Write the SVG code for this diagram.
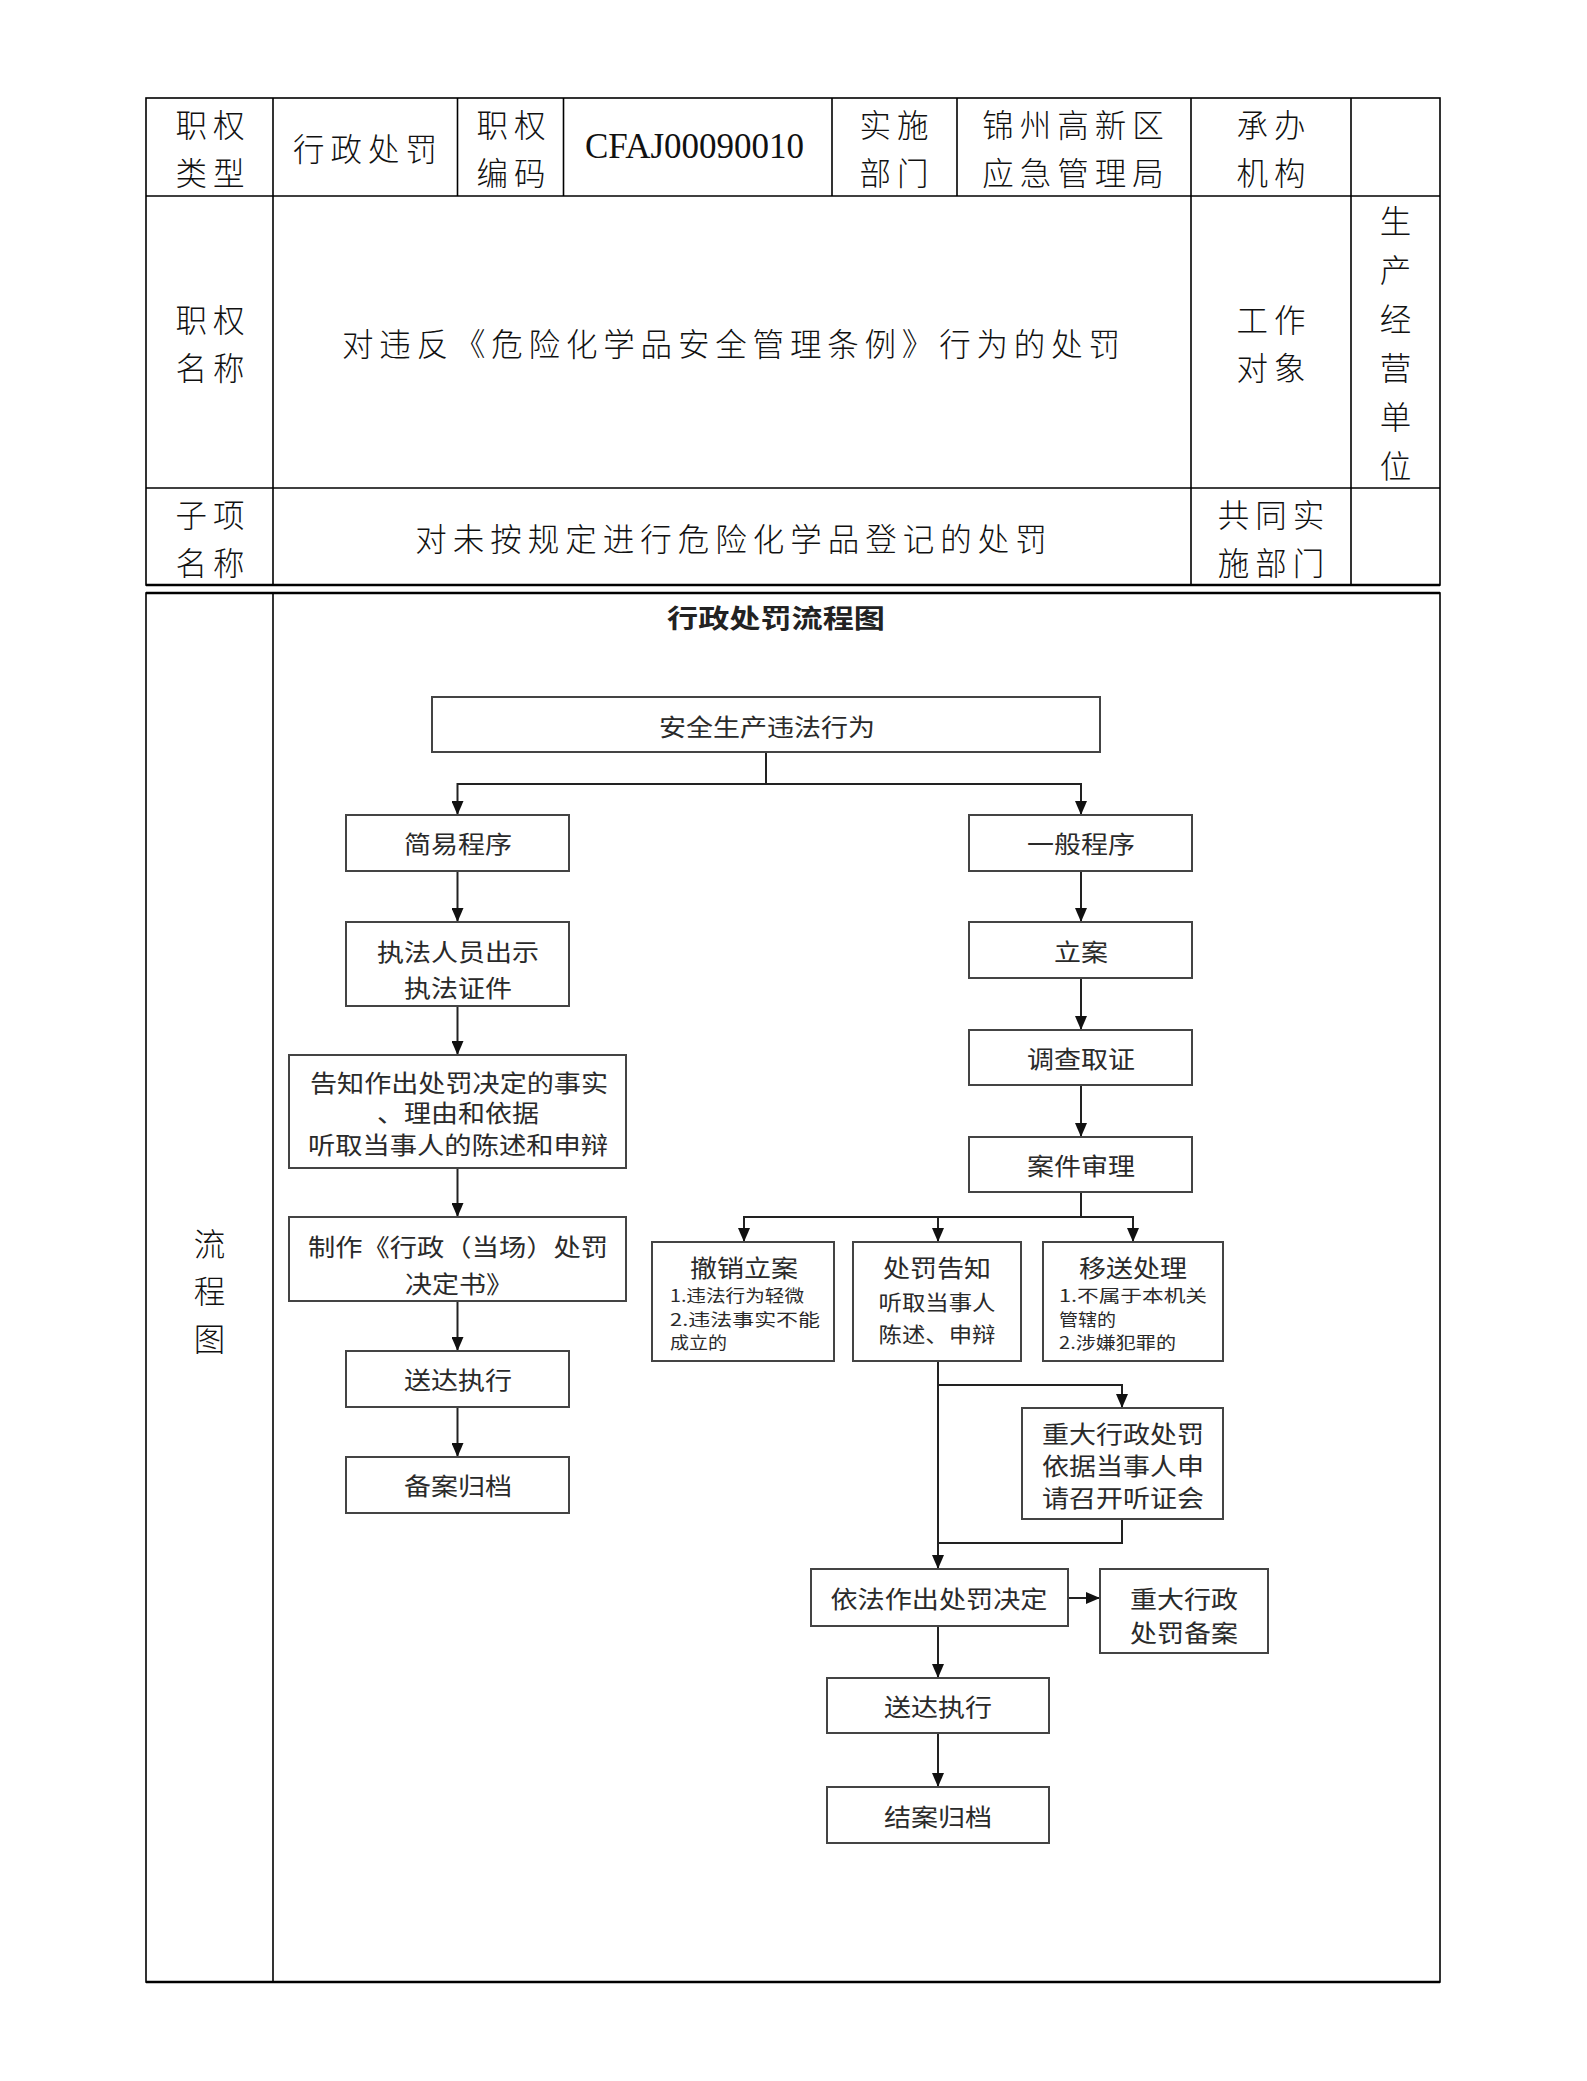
<svg xmlns="http://www.w3.org/2000/svg" width="1587" height="2081" viewBox="0 0 1587 2081">
<defs>
<style>
.bg{fill:#ffffff}
.tl{stroke:#000;stroke-width:1.6;fill:none}
.tk{stroke:#000;stroke-width:2.6;fill:none}
.tt{font-family:"Noto Sans CJK SC","Noto Sans CJK JP",sans-serif;font-size:31.5px;font-weight:300;fill:#111;letter-spacing:6px;text-anchor:middle;dominant-baseline:central}
.code{font-family:"Liberation Serif",serif;font-size:35px;fill:#111}
.title{font-family:"Noto Sans CJK SC",sans-serif;font-size:26px;font-weight:700;fill:#222;text-anchor:middle;dominant-baseline:central}
.box{fill:#fff;stroke:#444;stroke-width:2}
.ft{font-family:"Noto Sans CJK SC",sans-serif;font-size:24px;fill:#2a2a2a;text-anchor:middle;dominant-baseline:central}
.fm{font-family:"Noto Sans CJK SC",sans-serif;font-size:21px;fill:#2a2a2a;text-anchor:middle;dominant-baseline:central}
.fs{font-family:"Noto Sans CJK SC",sans-serif;font-size:17px;fill:#2a2a2a;dominant-baseline:central}
.cn{stroke:#222;stroke-width:2;fill:none}
.ar{stroke:#222;stroke-width:2;fill:none;marker-end:url(#arr)}
</style>
<marker id="arr" markerUnits="userSpaceOnUse" markerWidth="14" markerHeight="12" refX="14" refY="6" orient="auto">
<path d="M0,0 L14,6 L0,12 z" fill="#111"/>
</marker>
</defs>
<rect class="bg" x="0" y="0" width="1587" height="2081"/>

<g id="table">
<rect class="tl" x="146" y="98" width="1294" height="487"/>
<line class="tl" x1="146" y1="196" x2="1440" y2="196"/>
<line class="tl" x1="146" y1="488" x2="1440" y2="488"/>
<line class="tl" x1="273" y1="98" x2="273" y2="585"/>
<line class="tl" x1="457.5" y1="98" x2="457.5" y2="196"/>
<line class="tl" x1="563.5" y1="98" x2="563.5" y2="196"/>
<line class="tl" x1="832" y1="98" x2="832" y2="196"/>
<line class="tl" x1="957" y1="98" x2="957" y2="196"/>
<line class="tl" x1="1191" y1="98" x2="1191" y2="585"/>
<line class="tl" x1="1351" y1="98" x2="1351" y2="585"/>
<line class="tk" x1="146" y1="585" x2="1440" y2="585"/>
<rect class="tl" x="146" y="593" width="1294" height="1389"/>
<line class="tk" x1="146" y1="593" x2="1440" y2="593"/>
<line class="tk" x1="146" y1="1982" x2="1440" y2="1982"/>
<line class="tl" x1="273" y1="593" x2="273" y2="1982"/>
</g>

<g id="table-text">
<text class="tt" x="213" y="123">职权</text>
<text class="tt" x="213" y="171">类型</text>
<text class="tt" x="368" y="147">行政处罚</text>
<text class="tt" x="514" y="123">职权</text>
<text class="tt" x="514" y="171">编码</text>
<text class="code" x="585" y="158" textLength="219" lengthAdjust="spacing">CFAJ00090010</text>
<text class="tt" x="897" y="123">实施</text>
<text class="tt" x="897" y="171">部门</text>
<text class="tt" x="1076" y="123">锦州高新区</text>
<text class="tt" x="1076" y="171">应急管理局</text>
<text class="tt" x="1274" y="123">承办</text>
<text class="tt" x="1274" y="171">机构</text>
<text class="tt" x="213" y="318">职权</text>
<text class="tt" x="213" y="366">名称</text>
<text class="tt" x="734" y="342" textLength="784" lengthAdjust="spacing">对违反《危险化学品安全管理条例》行为的处罚</text>
<text class="tt" x="1274" y="318">工作</text>
<text class="tt" x="1274" y="366">对象</text>
<text class="tt" x="1395.5" y="219" style="letter-spacing:0">生</text>
<text class="tt" x="1395.5" y="268" style="letter-spacing:0">产</text>
<text class="tt" x="1395.5" y="317" style="letter-spacing:0">经</text>
<text class="tt" x="1395.5" y="366" style="letter-spacing:0">营</text>
<text class="tt" x="1395.5" y="415" style="letter-spacing:0">单</text>
<text class="tt" x="1395.5" y="464" style="letter-spacing:0">位</text>
<text class="tt" x="213" y="513">子项</text>
<text class="tt" x="213" y="561">名称</text>
<text class="tt" x="734" y="537">对未按规定进行危险化学品登记的处罚</text>
<text class="tt" x="1274" y="513">共同实</text>
<text class="tt" x="1274" y="561">施部门</text>
<text class="tt" x="209.5" y="1242" style="letter-spacing:0">流</text>
<text class="tt" x="209.5" y="1289" style="letter-spacing:0">程</text>
<text class="tt" x="209.5" y="1337" style="letter-spacing:0">图</text>
</g>

<g id="flow-title">
<text class="title" x="776" y="616" textLength="218" lengthAdjust="spacingAndGlyphs">行政处罚流程图</text>
</g>

<g id="connectors">
<path class="ar" d="M766,752 V784 H457.5 V815"/>
<path class="ar" d="M766,784 H1081 V815"/>
<path class="ar" d="M457.5,871 V922"/>
<path class="ar" d="M457.5,1006 V1055"/>
<path class="ar" d="M457.5,1168 V1217"/>
<path class="ar" d="M457.5,1301 V1351"/>
<path class="ar" d="M457.5,1407 V1457"/>
<path class="ar" d="M1081,871 V922"/>
<path class="ar" d="M1081,978 V1030"/>
<path class="ar" d="M1081,1085 V1137"/>
<path class="ar" d="M1081,1192 V1217 H744 V1242"/>
<path class="ar" d="M938,1217 V1242"/>
<path class="ar" d="M1081,1217 H1133 V1242"/>
<path class="ar" d="M938,1361 V1569"/>
<path class="ar" d="M938,1385 H1122 V1408"/>
<path class="cn" d="M1122,1519 V1543 H938"/>
<path class="ar" d="M1068,1598 H1100"/>
<path class="ar" d="M938,1626 V1678"/>
<path class="ar" d="M938,1733 V1787"/>
</g>

<g id="n-start">
<rect class="box" x="432" y="697" width="668" height="55"/>
<text class="ft" x="767" y="725" textLength="216" lengthAdjust="spacingAndGlyphs">安全生产违法行为</text>
</g>
<g id="n-simple">
<rect class="box" x="346" y="815" width="223" height="56"/>
<text class="ft" x="458" y="842" textLength="108" lengthAdjust="spacingAndGlyphs">简易程序</text>
</g>
<g id="n-show-id">
<rect class="box" x="346" y="922" width="223" height="84"/>
<text class="ft" x="458" y="950" textLength="162" lengthAdjust="spacingAndGlyphs">执法人员出示</text>
<text class="ft" x="458" y="986" textLength="108" lengthAdjust="spacingAndGlyphs">执法证件</text>
</g>
<g id="n-inform">
<rect class="box" x="289" y="1055" width="337" height="113"/>
<text class="ft" x="459" y="1081" textLength="298" lengthAdjust="spacingAndGlyphs">告知作出处罚决定的事实</text>
<text class="ft" x="458" y="1111" textLength="162" lengthAdjust="spacingAndGlyphs">、理由和依据</text>
<text class="ft" x="458" y="1143" textLength="300" lengthAdjust="spacingAndGlyphs">听取当事人的陈述和申辩</text>
</g>
<g id="n-make">
<rect class="box" x="289" y="1217" width="337" height="84"/>
<text class="ft" x="458" y="1245" textLength="300" lengthAdjust="spacingAndGlyphs">制作《行政（当场）处罚</text>
<text class="ft" x="459" y="1282" textLength="108" lengthAdjust="spacingAndGlyphs">决定书》</text>
</g>
<g id="n-deliver-l">
<rect class="box" x="346" y="1351" width="223" height="56"/>
<text class="ft" x="458" y="1378" textLength="108" lengthAdjust="spacingAndGlyphs">送达执行</text>
</g>
<g id="n-file-l">
<rect class="box" x="346" y="1457" width="223" height="56"/>
<text class="ft" x="458" y="1484" textLength="108" lengthAdjust="spacingAndGlyphs">备案归档</text>
</g>
<g id="n-general">
<rect class="box" x="969" y="815" width="223" height="56"/>
<text class="ft" x="1081" y="842" textLength="108" lengthAdjust="spacingAndGlyphs">一般程序</text>
</g>
<g id="n-register">
<rect class="box" x="969" y="922" width="223" height="56"/>
<text class="ft" x="1081" y="950" textLength="54" lengthAdjust="spacingAndGlyphs">立案</text>
</g>
<g id="n-investigate">
<rect class="box" x="969" y="1030" width="223" height="55"/>
<text class="ft" x="1081" y="1057" textLength="108" lengthAdjust="spacingAndGlyphs">调查取证</text>
</g>
<g id="n-review">
<rect class="box" x="969" y="1137" width="223" height="55"/>
<text class="ft" x="1081" y="1164" textLength="108" lengthAdjust="spacingAndGlyphs">案件审理</text>
</g>
<g id="n-revoke">
<rect class="box" x="652" y="1242" width="182" height="119"/>
<text class="ft" x="744" y="1266" textLength="108" lengthAdjust="spacingAndGlyphs">撤销立案</text>
<text class="fs" x="670" y="1294" textLength="134" lengthAdjust="spacingAndGlyphs">1.违法行为轻微</text>
<text class="fs" x="670" y="1318" textLength="150" lengthAdjust="spacingAndGlyphs">2.违法事实不能</text>
<text class="fs" x="670" y="1341" textLength="57" lengthAdjust="spacingAndGlyphs">成立的</text>
</g>
<g id="n-notice">
<rect class="box" x="853" y="1242" width="168" height="119"/>
<text class="ft" x="937" y="1266" textLength="108" lengthAdjust="spacingAndGlyphs">处罚告知</text>
<text class="fm" x="937" y="1301" textLength="117" lengthAdjust="spacingAndGlyphs">听取当事人</text>
<text class="fm" x="937" y="1333" textLength="117" lengthAdjust="spacingAndGlyphs">陈述、申辩</text>
</g>
<g id="n-transfer">
<rect class="box" x="1043" y="1242" width="180" height="119"/>
<text class="ft" x="1133" y="1266" textLength="108" lengthAdjust="spacingAndGlyphs">移送处理</text>
<text class="fs" x="1059" y="1294" textLength="148" lengthAdjust="spacingAndGlyphs">1.不属于本机关</text>
<text class="fs" x="1059" y="1318" textLength="57" lengthAdjust="spacingAndGlyphs">管辖的</text>
<text class="fs" x="1059" y="1341" textLength="117" lengthAdjust="spacingAndGlyphs">2.涉嫌犯罪的</text>
</g>
<g id="n-hearing">
<rect class="box" x="1022" y="1408" width="201" height="111"/>
<text class="ft" x="1123" y="1432" textLength="162" lengthAdjust="spacingAndGlyphs">重大行政处罚</text>
<text class="ft" x="1123" y="1464" textLength="162" lengthAdjust="spacingAndGlyphs">依据当事人申</text>
<text class="ft" x="1123" y="1496" textLength="162" lengthAdjust="spacingAndGlyphs">请召开听证会</text>
</g>
<g id="n-decide">
<rect class="box" x="811" y="1569" width="257" height="57"/>
<text class="ft" x="939" y="1597" textLength="217" lengthAdjust="spacingAndGlyphs">依法作出处罚决定</text>
</g>
<g id="n-record">
<rect class="box" x="1100" y="1569" width="168" height="84"/>
<text class="ft" x="1184" y="1597" textLength="108" lengthAdjust="spacingAndGlyphs">重大行政</text>
<text class="ft" x="1184" y="1631" textLength="108" lengthAdjust="spacingAndGlyphs">处罚备案</text>
</g>
<g id="n-deliver-r">
<rect class="box" x="827" y="1678" width="222" height="55"/>
<text class="ft" x="938" y="1705" textLength="108" lengthAdjust="spacingAndGlyphs">送达执行</text>
</g>
<g id="n-close">
<rect class="box" x="827" y="1787" width="222" height="56"/>
<text class="ft" x="938" y="1815" textLength="108" lengthAdjust="spacingAndGlyphs">结案归档</text>
</g>
</svg>
